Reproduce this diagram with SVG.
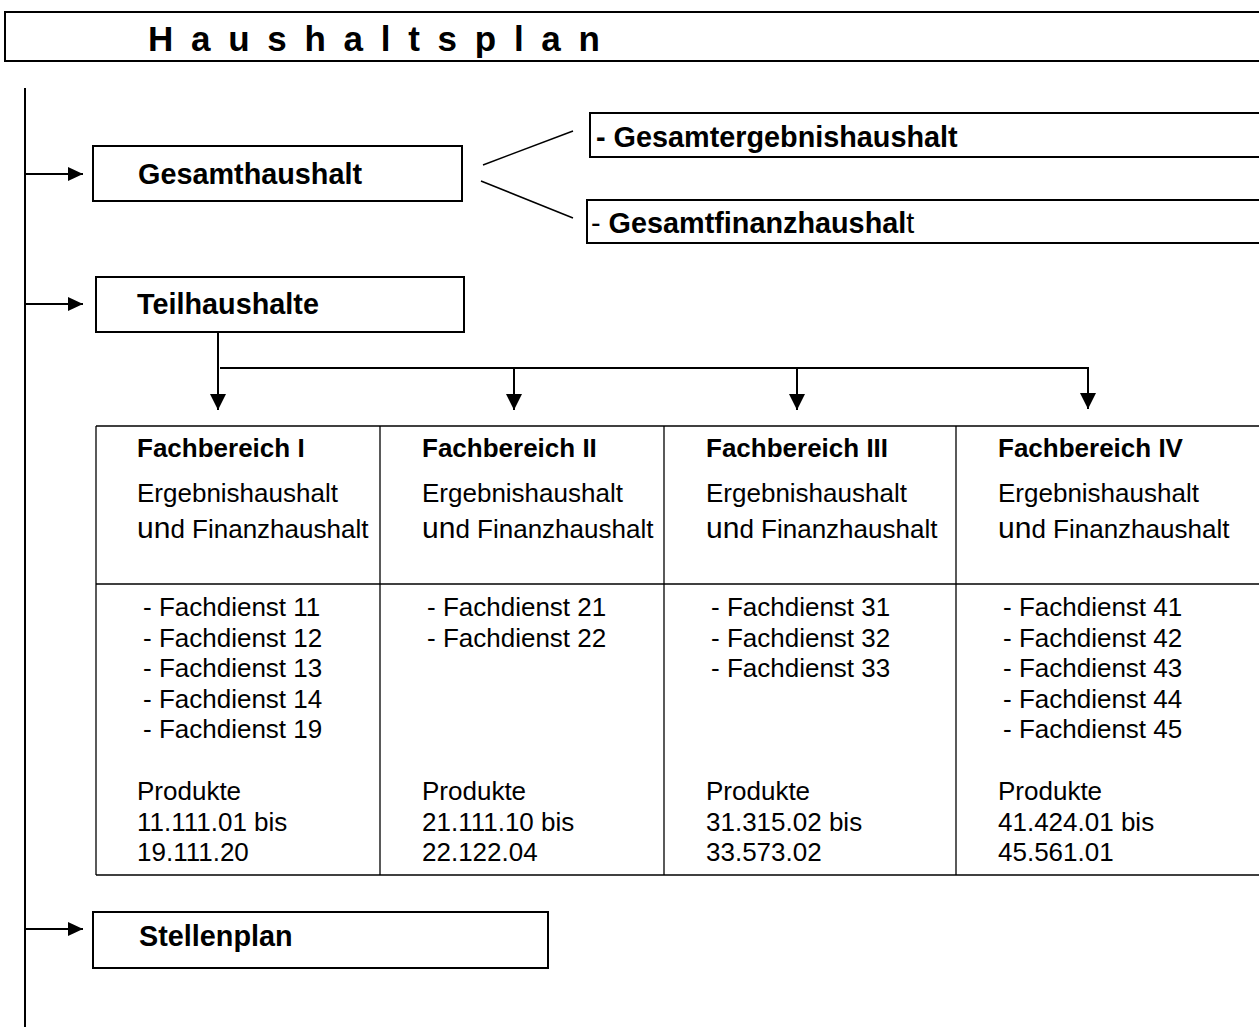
<svg xmlns="http://www.w3.org/2000/svg" width="1259" height="1027" viewBox="0 0 1259 1027">
<style>
text{font-family:"Liberation Sans",Arial,sans-serif;fill:#000}
.t{font-size:35px;font-weight:bold;letter-spacing:4px}
.h{font-size:28.8px;font-weight:bold}
.fb{font-size:26px;font-weight:bold}
.r{font-size:26px}
.n{font-weight:normal}
.box{fill:#fff;stroke:#000;stroke-width:2}
.tbl{stroke:#000;stroke-width:1.3;fill:none}
.c{stroke:#000;stroke-width:2;fill:none}
.d{stroke:#000;stroke-width:1.5;fill:none}
</style>
<defs>
<marker id="ah" markerUnits="userSpaceOnUse" markerWidth="16" markerHeight="14" refX="15" refY="7" orient="auto">
<path d="M0,0 L15,7 L0,14 z" fill="#000"/>
</marker>
<marker id="av" markerUnits="userSpaceOnUse" markerWidth="17" markerHeight="16" refX="16" refY="8" orient="auto">
<path d="M0,0 L16,8 L0,16 z" fill="#000"/>
</marker>
</defs>
<rect width="1259" height="1027" fill="#fff"/>

<g id="title">
<rect class="box" x="5" y="12" width="1270" height="49"/>
<text class="t" x="148" y="51">H a u s h a l t s p l a n</text>
</g>

<g id="connectors">
<line class="c" x1="25" y1="88" x2="25" y2="1027"/>
<line class="c" x1="25" y1="174" x2="83" y2="174" marker-end="url(#ah)"/>
<line class="c" x1="25" y1="304" x2="83" y2="304" marker-end="url(#ah)"/>
<line class="c" x1="25" y1="929" x2="83" y2="929" marker-end="url(#ah)"/>
<line class="d" x1="483" y1="165" x2="573" y2="131"/>
<line class="d" x1="481" y1="181" x2="573" y2="218"/>
<line class="c" x1="218" y1="333" x2="218" y2="410" marker-end="url(#av)"/>
<polyline class="c" points="220,368 1088,368 1088,409" marker-end="url(#av)"/>
<line class="c" x1="514" y1="368" x2="514" y2="410" marker-end="url(#av)"/>
<line class="c" x1="797" y1="368" x2="797" y2="410" marker-end="url(#av)"/>
</g>

<g id="gesamthaushalt">
<rect class="box" x="93" y="146" width="369" height="55"/>
<text class="h" x="138" y="184">Gesamthaushalt</text>
</g>

<g id="gesamtergebnishaushalt">
<rect class="box" x="590" y="113" width="690" height="44"/>
<text class="h" x="596" y="147">- Gesamtergebnishaushalt</text>
</g>

<g id="gesamtfinanzhaushalt">
<rect class="box" x="587" y="200" width="690" height="43"/>
<text class="h" x="591" y="233"><tspan class="n">- </tspan>Gesamtfinanzhaushal<tspan class="n">t</tspan></text>
</g>

<g id="teilhaushalte">
<rect class="box" x="96" y="277" width="368" height="55"/>
<text class="h" x="137" y="314">Teilhaushalte</text>
</g>

<g id="table">
<line class="tbl" x1="96" y1="426" x2="1259" y2="426"/>
<line class="tbl" x1="96" y1="584" x2="1259" y2="584"/>
<line class="tbl" x1="96" y1="875" x2="1259" y2="875"/>
<line class="tbl" x1="96" y1="426" x2="96" y2="875"/>
<line class="tbl" x1="380" y1="426" x2="380" y2="875"/>
<line class="tbl" x1="664" y1="426" x2="664" y2="875"/>
<line class="tbl" x1="956" y1="426" x2="956" y2="875"/>
</g>

<g id="fachbereich1">
<text class="fb" x="137" y="457">Fachbereich I</text>
<text class="r" x="137" y="502">Ergebnishaushalt</text>
<text class="r" x="137" y="538"><tspan font-size="30">un</tspan>d Finanzhaushalt</text>
<text class="r" x="143" y="616">- Fachdienst 11</text>
<text class="r" x="143" y="647">- Fachdienst 12</text>
<text class="r" x="143" y="677">- Fachdienst 13</text>
<text class="r" x="143" y="708">- Fachdienst 14</text>
<text class="r" x="143" y="738">- Fachdienst 19</text>
<text class="r" x="137" y="800">Produkte</text>
<text class="r" x="137" y="831">11.111.01 bis</text>
<text class="r" x="137" y="861">19.111.20</text>
</g>

<g id="fachbereich2">
<text class="fb" x="422" y="457">Fachbereich II</text>
<text class="r" x="422" y="502">Ergebnishaushalt</text>
<text class="r" x="422" y="538"><tspan font-size="30">un</tspan>d Finanzhaushalt</text>
<text class="r" x="427" y="616">- Fachdienst 21</text>
<text class="r" x="427" y="647">- Fachdienst 22</text>
<text class="r" x="422" y="800">Produkte</text>
<text class="r" x="422" y="831">21.111.10 bis</text>
<text class="r" x="422" y="861">22.122.04</text>
</g>

<g id="fachbereich3">
<text class="fb" x="706" y="457">Fachbereich III</text>
<text class="r" x="706" y="502">Ergebnishaushalt</text>
<text class="r" x="706" y="538"><tspan font-size="30">un</tspan>d Finanzhaushalt</text>
<text class="r" x="711" y="616">- Fachdienst 31</text>
<text class="r" x="711" y="647">- Fachdienst 32</text>
<text class="r" x="711" y="677">- Fachdienst 33</text>
<text class="r" x="706" y="800">Produkte</text>
<text class="r" x="706" y="831">31.315.02 bis</text>
<text class="r" x="706" y="861">33.573.02</text>
</g>

<g id="fachbereich4">
<text class="fb" x="998" y="457">Fachbereich IV</text>
<text class="r" x="998" y="502">Ergebnishaushalt</text>
<text class="r" x="998" y="538"><tspan font-size="30">un</tspan>d Finanzhaushalt</text>
<text class="r" x="1003" y="616">- Fachdienst 41</text>
<text class="r" x="1003" y="647">- Fachdienst 42</text>
<text class="r" x="1003" y="677">- Fachdienst 43</text>
<text class="r" x="1003" y="708">- Fachdienst 44</text>
<text class="r" x="1003" y="738">- Fachdienst 45</text>
<text class="r" x="998" y="800">Produkte</text>
<text class="r" x="998" y="831">41.424.01 bis</text>
<text class="r" x="998" y="861">45.561.01</text>
</g>

<g id="stellenplan">
<rect class="box" x="93" y="912" width="455" height="56"/>
<text class="h" x="139" y="946">Stellenplan</text>
</g>
</svg>
